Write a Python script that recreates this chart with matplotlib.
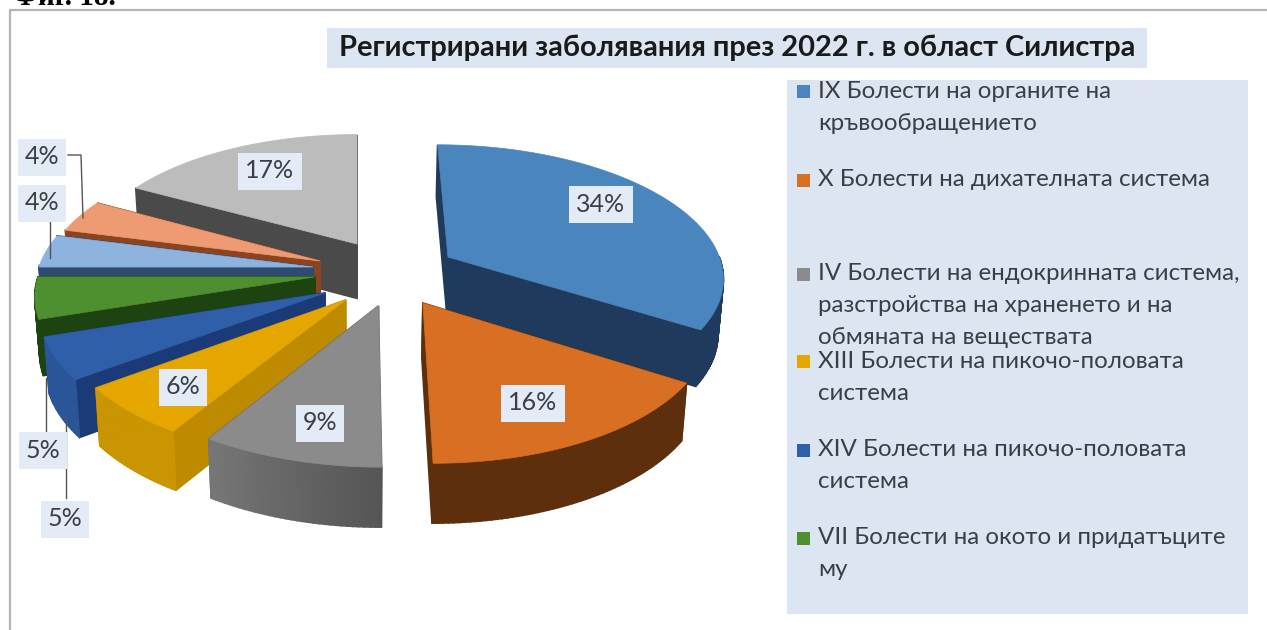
import numpy as np
import matplotlib
matplotlib.use("Agg")
from matplotlib import pyplot as plt
from matplotlib.patches import Polygon, Rectangle
from matplotlib.colors import to_rgb

plt.rcParams['font.family'] = ['Lato', 'Noto Sans', 'DejaVu Sans']

# dyalove na zabolyavaniyata, po posoka na chasovnika ot 12 chasa
valores = [34, 16, 9, 6, 5, 5, 4, 4, 17]

leyenda = [
    ["IX Болести на органите на", "кръвообращението"],
    ["X Болести на дихателната система"],
    ["IV Болести на ендокринната система,", "разстройства на храненето и на", "обмяната на веществата"],
    ["XIII Болести на пикочо-половата", "система"],
    ["XIV Болести на пикочо-половата", "система"],
    ["VII Болести на окото и придатъците", "му"],
]
titulo = "Регистрирани заболявания през 2022 г. в област Силистра"
figura = "Фиг. 18."

# estilo: tapa, pared de corte, pared exterior
tapas = ["#4a86bd", "#d96f22", "#8b8b8b", "#e6a600", "#2f5fa8", "#4e8f30", "#8db3de", "#ee9a72", "#bcbcbc"]
cortes = ["#1f3a5c", "#5e2f0c", "#666666", "#bd8a00", "#1a3a78", "#1d4310", "#2e4a6e", "#8a4420", "#4a4a4a"]
paredes = ["#1f3a5c", "#5e2f0c", "#6e6e6e", "#c99500", "#2a5598", "#1d4310", "#2e4a6e", "#8a4420", "#555555"]

# desplazamiento de cada sector sobre el plano del disco
despl_x = [0.335, 0.232, 0.075, -0.04, -0.114, -0.152, -0.16, -0.136, 0.0]
despl_y = [0.101, -0.246, -0.267, -0.224, -0.173, -0.053, 0.023, 0.07, 0.205]

cx, cy = 357, 270
A, B, K = 275, 130, 0.13
LEYENDA_AZUL = "#dce6f3"
ETIQUETA = "#e2ebf6"


def proyectar(x, y, abajo=False):
    p = 1 / (1 + K * y)
    sx = cx + A * x * p
    sy = cy - B * y * p
    if abajo:
        sx = sx + (cx - sx) * 0.015
        sy = sy + 30 + 25 * p
    return sx, sy


def arco(i):
    total = sum(valores)
    ini = sum(valores[:i]) / total * 2 * np.pi
    fin = sum(valores[:i + 1]) / total * 2 * np.pi
    return np.linspace(ini, fin, max(int((fin - ini) * 60), 8))


def pared(ax, xs, ys, color):
    x0, y0 = proyectar(xs, ys)
    x1, y1 = proyectar(xs, ys, abajo=True)
    pts = np.column_stack([np.r_[x0, x1[::-1]], np.r_[y0, y1[::-1]]])
    ax.add_patch(Polygon(pts, closed=True, fc=color, ec=color, lw=1.2))


def sector(ax, i):
    t = arco(i)
    ox, oy = despl_x[i], despl_y[i]
    bx = ox + np.sin(t)
    by = oy + np.cos(t)

    # paredes de corte, primero la que queda mas atras
    lados = [(np.array([ox, bx[0]]), np.array([oy, by[0]])),
             (np.array([ox, bx[-1]]), np.array([oy, by[-1]]))]
    lados.sort(key=lambda l: l[1][1], reverse=True)
    for xs, ys in lados:
        pared(ax, xs, ys, cortes[i])

    # pared exterior por tramos; la gris lleva degradado
    base = np.array(to_rgb(paredes[i]))
    for j in range(len(t) - 1):
        if np.cos(t[j]) < 0 or np.cos(t[j + 1]) < 0:
            f = 0.78 + 0.3 * j / (len(t) - 1) if i == 2 else 1.0
            pared(ax, bx[j:j + 2], by[j:j + 2], np.clip(base * f, 0, 1))

    # tapa
    sx, sy = proyectar(np.r_[ox, bx], np.r_[oy, by])
    ax.add_patch(Polygon(np.column_stack([sx, sy]), closed=True, fc=tapas[i], ec=tapas[i], lw=0.5))


fig = plt.figure(figsize=(12.67, 6.30), dpi=100)
ax = fig.add_axes([0, 0, 1, 1])
ax.set_xlim(0, 1267)
ax.set_ylim(630, 0)
ax.axis("off")

# marco del grafico
ax.plot([1267, 10, 10], [10, 10, 630], color="#b4b4b4", lw=1.6, zorder=1)
ax.text(13, 5, figura, family="Liberation Serif", weight="bold", fontsize=21, color="black", va="baseline")

# titulo
ax.add_patch(Rectangle((327, 28), 820, 40, fc=LEYENDA_AZUL, ec="none"))
ax.text(737, 48, titulo, fontsize=20.9, weight="bold", color="#1a1a1a", ha="center", va="center")

# sectores de atras hacia delante
for i in [8, 7, 6, 5, 4, 3, 2, 0, 1]:
    sector(ax, i)

# lineas guia de las etiquetas pequenas
guias = [([68, 81, 83], [155, 155, 218]), ([50, 50], [222, 258]), ([46, 46], [378, 432]), ([66, 66], [417, 498])]
for gx, gy in guias:
    ax.plot(gx, gy, color="#555555", lw=1, zorder=2)

# etiquetas de porcentaje
pos_etiquetas = [(601, 204), (533, 403), (320, 423), (183, 387), (65, 519), (43, 450), (42, 203), (42, 157), (270, 171)]
for v, (px, py) in zip(valores, pos_etiquetas):
    ax.text(px, py, f"{v}%", fontsize=18, color="#3b3f45", ha="center", va="center", zorder=5,
            bbox=dict(fc=ETIQUETA, ec="none", boxstyle="square,pad=0.28"))

# leyenda
ax.add_patch(Rectangle((787, 80), 461, 534, fc=LEYENDA_AZUL, ec="none"))
filas = [91, 180, 274, 361, 450, 538]
for fila, lineas, color in zip(filas, leyenda, tapas):
    ax.add_patch(Rectangle((797, fila - 6), 13, 13, fc=color, ec="none"))
    for n, linea in enumerate(lineas):
        ax.text(818, fila + n * 32, linea, fontsize=17.4, color="#3a3f45", va="center")

fig.savefig("out.png", dpi=100, facecolor="white")
